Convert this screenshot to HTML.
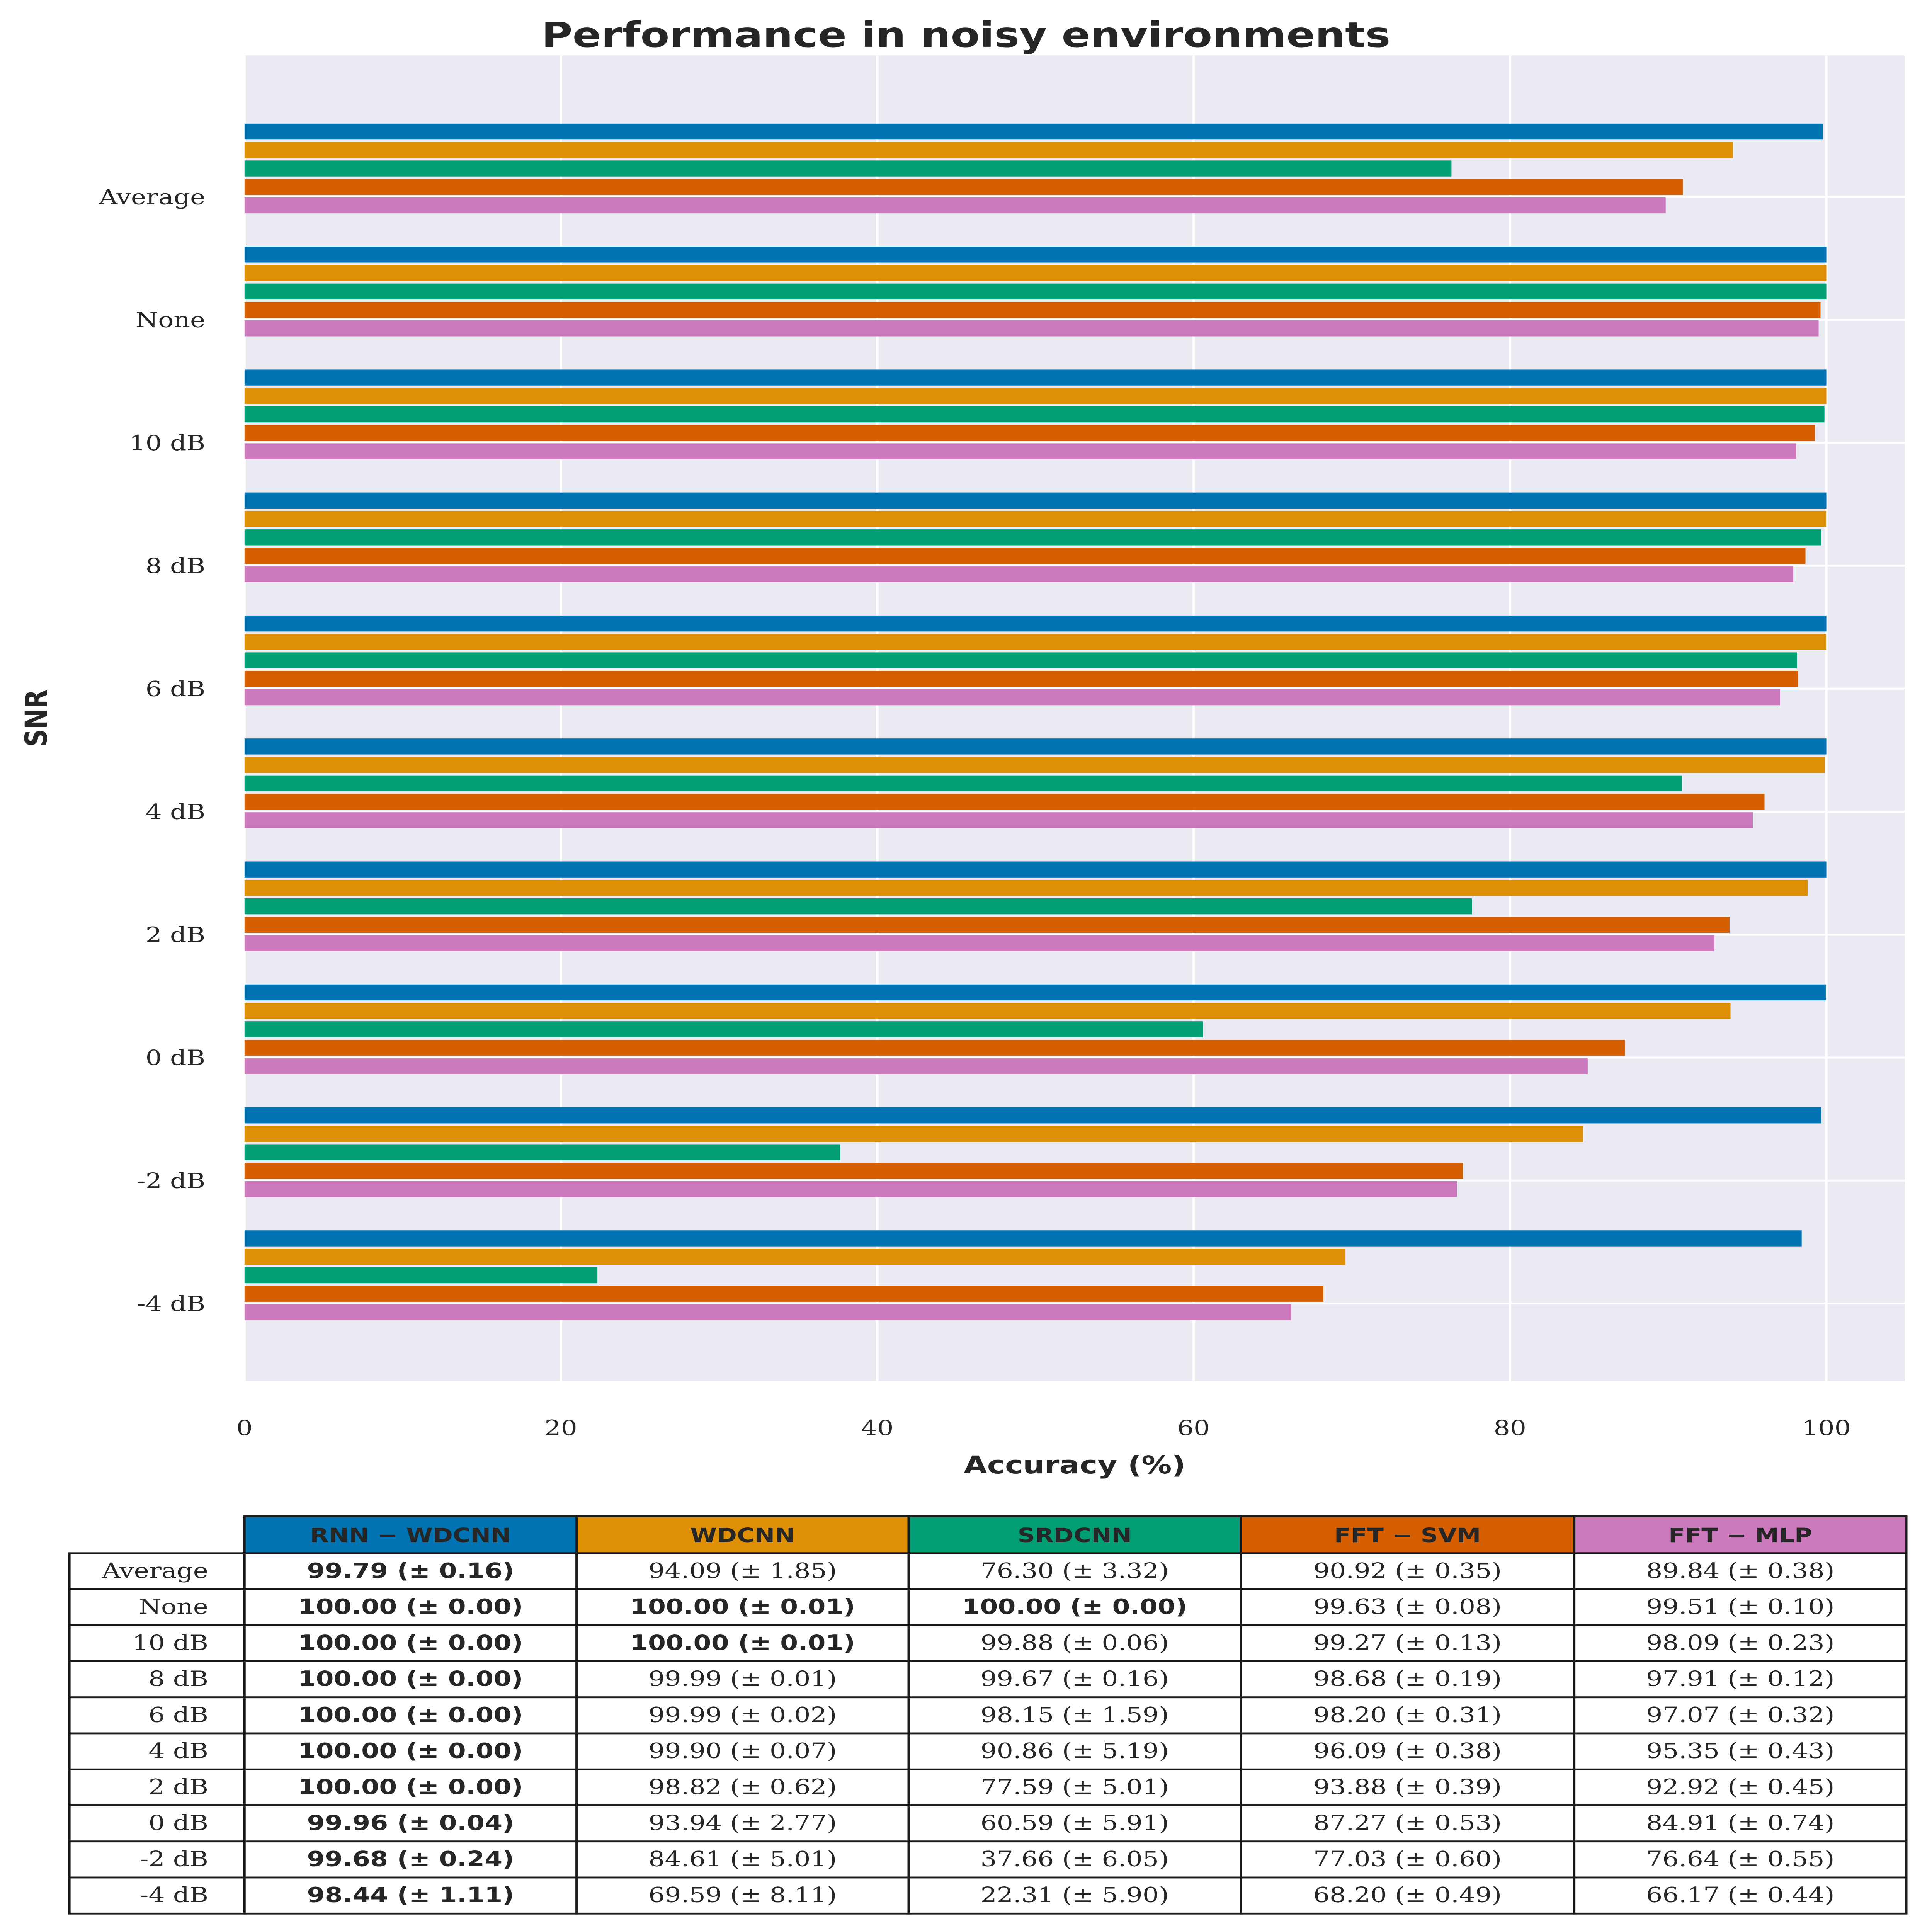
<!DOCTYPE html>
<html><head><meta charset="utf-8"><style>
html,body{margin:0;padding:0;background:#fff;overflow:hidden;width:100vw;height:100vh}
svg{display:block;position:absolute;left:0;top:0;width:100vw;height:100vh}
.tk{font-family:"DejaVu Serif","Liberation Serif",serif;font-size:17px;fill:#262626}
.b{font-family:"DejaVu Sans","Liberation Sans",sans-serif;font-weight:bold;fill:#262626}
</style></head><body>
<svg id="chart" viewBox="0 0 1280 1571" preserveAspectRatio="none" xmlns="http://www.w3.org/2000/svg">
<rect width="1280" height="1571" fill="#fff"/>
<text class="b" x="640" y="38" font-size="28" text-anchor="middle">Performance in noisy environments</text>
<rect x="162" y="45" width="1100" height="1078" fill="#eaeaf2"/>
<g id="grid"></g><g id="bars"></g><g id="axes"></g><g id="table"></g>
<text class="b" x="712" y="1198" font-size="20" text-anchor="middle">Accuracy (%)</text>
<text class="b" x="0" y="0" font-size="20" text-anchor="middle" transform="translate(31,584) rotate(-90)">SNR</text>
</svg>
<script>
const categories=["Average","None","10 dB","8 dB","6 dB","4 dB","2 dB","0 dB","-2 dB","-4 dB"];
const seriesNames=["RNN − WDCNN","WDCNN","SRDCNN","FFT − SVM","FFT − MLP"];
const rnnWdcnn=[99.79,100.00,100.00,100.00,100.00,100.00,100.00,99.96,99.68,98.44];
const rnnWdcnnStd=[0.16,0.00,0.00,0.00,0.00,0.00,0.00,0.04,0.24,1.11];
const wdcnn=[94.09,100.00,100.00,99.99,99.99,99.90,98.82,93.94,84.61,69.59];
const wdcnnStd=[1.85,0.01,0.01,0.01,0.02,0.07,0.62,2.77,5.01,8.11];
const srdcnn=[76.30,100.00,99.88,99.67,98.15,90.86,77.59,60.59,37.66,22.31];
const srdcnnStd=[3.32,0.00,0.06,0.16,1.59,5.19,5.01,5.91,6.05,5.90];
const fftSvm=[90.92,99.63,99.27,98.68,98.20,96.09,93.88,87.27,77.03,68.20];
const fftSvmStd=[0.35,0.08,0.13,0.19,0.31,0.38,0.39,0.53,0.60,0.49];
const fftMlp=[89.84,99.51,98.09,97.91,97.07,95.35,92.92,84.91,76.64,66.17];
const fftMlpStd=[0.38,0.10,0.23,0.12,0.32,0.43,0.45,0.74,0.55,0.44];
const xTicks=[0,20,40,60,80,100];
const colors=["#0173b2","#de8f05","#029e73","#d55e00","#cc78bc"];
const vals=[rnnWdcnn,wdcnn,srdcnn,fftSvm,fftMlp];
const stds=[rnnWdcnnStd,wdcnnStd,srdcnnStd,fftSvmStd,fftMlpStd];
const NS="http://www.w3.org/2000/svg";
function mk(p,t,a){const e=document.createElementNS(NS,t);for(const k in a)e.setAttribute(k,a[k]);p.appendChild(e);return e;}
const X=v=>162+v*10.48;
const Y=i=>160+i*100;
const grid=document.getElementById('grid'),bars=document.getElementById('bars'),axes=document.getElementById('axes'),tbl=document.getElementById('table');
xTicks.forEach(t=>{
 const l=mk(grid,'line',{x1:X(t),x2:X(t),y1:45,y2:1123,stroke:'#fff','stroke-width':1.6});
 
 
 const tx=mk(axes,'text',{class:'tk',x:X(t),y:1167,'text-anchor':'middle'});tx.textContent=t;
 
 
});
categories.forEach((c,i)=>{
 const l=mk(grid,'line',{x1:162,x2:1262,y1:Y(i),y2:Y(i),stroke:'#fff','stroke-width':1.6});
 
 
 const tx=mk(axes,'text',{class:'tk',x:136,y:Y(i)+6,'text-anchor':'end'});tx.textContent=c;
 
 
 vals.forEach((s,j)=>{
  const cy=Y(i)-53+j*15;
  const r=mk(bars,'rect',{x:X(0),y:cy-6.5,width:X(s[i])-X(0),height:13,fill:colors[j]});
  
  
 });
});
const colX=[46,162,382,602,822,1043,1263];
const tableTop=1233,hh=30,rh=29.3;
for(let j=0;j<5;j++){
 const r=mk(tbl,'rect',{x:colX[j+1],y:tableTop,width:colX[j+2]-colX[j+1],height:hh,fill:colors[j],stroke:'#1a1a1a','stroke-width':1.5});
 
 
 const t=mk(tbl,'text',{class:'b',x:(colX[j+1]+colX[j+2])/2,y:tableTop+21,'font-size':16,'text-anchor':'middle'});t.textContent=seriesNames[j];
 
 
}
categories.forEach((c,i)=>{
 const y=tableTop+hh+i*rh;
 const r0=mk(tbl,'rect',{x:colX[0],y:y,width:colX[1]-colX[0],height:rh,fill:'#fff',stroke:'#1a1a1a','stroke-width':1.5});
 
 
 const t0=mk(tbl,'text',{class:'tk',x:colX[1]-24,y:y+20,'text-anchor':'end'});t0.textContent=c;
 
 
 const best=Math.max(...vals.map(s=>s[i]));
 vals.forEach((s,j)=>{
  const r=mk(tbl,'rect',{x:colX[j+1],y:y,width:colX[j+2]-colX[j+1],height:rh,fill:'#fff',stroke:'#1a1a1a','stroke-width':1.5});
  
  
  const isB=s[i]===best;
  const t=mk(tbl,'text',{class:isB?'b':'tk',x:(colX[j+1]+colX[j+2])/2,y:y+20,'text-anchor':'middle'});
  if(isB)t.setAttribute('font-size','17');
  t.textContent=s[i].toFixed(2)+" (± "+stds[j][i].toFixed(2)+")";
  
  
 });
});
</script>
</body></html>
